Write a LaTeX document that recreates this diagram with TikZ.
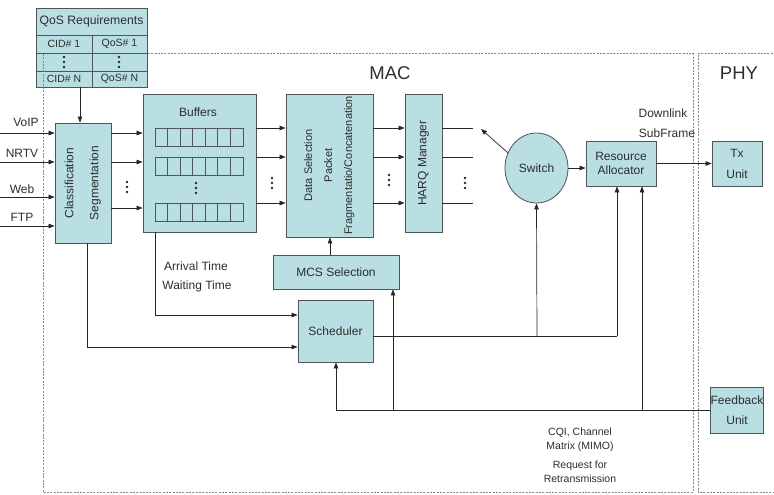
\documentclass[tikz,border=0pt]{standalone}
\usepackage{fontspec}
\setmainfont{Liberation Sans}
\usetikzlibrary{arrows.meta,shapes.geometric,calc}
\definecolor{boxfill}{RGB}{185,223,227}
\definecolor{boxline}{RGB}{75,85,90}
\definecolor{txt}{RGB}{45,45,45}
\definecolor{frame}{RGB}{135,135,135}
\newcommand{\mydots}[2]{\fill[black!85] (#1,#2-5) circle (1.3) (#1,#2) circle (1.3) (#1,#2+5) circle (1.3);}
\begin{document}
\begin{tikzpicture}[x=1pt,y=-1pt,
 box/.style={draw=boxline, fill=boxfill, line width=0.8pt, inner sep=0pt, text=txt, font=\fontsize{12}{14}\selectfont, align=center},
 cell/.style={box, font=\fontsize{10.5}{12}\selectfont},
 arr/.style={-{Triangle[length=6pt,width=4.5pt]}, draw=black!85, line width=0.7pt},
 ln/.style={draw=black!85, line width=0.7pt},
 lbl/.style={text=txt, font=\fontsize{12}{14}\selectfont, inner sep=0pt, align=center},
 frm/.style={draw=frame, line width=1pt, dash pattern=on 2pt off 1.3pt}]
\useasboundingbox (0,0) rectangle (774,495);
% frames
\draw[frm] (43,54) rectangle (693,492);
\draw[frm] (776,54) -- (698,54) -- (698,492) -- (776,492);
\node[lbl, font=\fontsize{18.5}{20}\selectfont] (mac) at (390,73) {MAC};
\node[lbl, font=\fontsize{18.5}{20}\selectfont] (phy) at (739,73) {PHY};
% QoS table
\node[box, minimum width=111pt, minimum height=27pt, font=\fontsize{12.2}{14}\selectfont] (qos) at (91.5,21.5) {QoS Requirements};
\node[cell, minimum width=56pt, minimum height=18pt] (cid1) at (64,44) {CID\# 1};
\node[cell, minimum width=55pt, minimum height=18pt] (qos1) at (119.5,44) {QoS\# 1};
\node[cell, minimum width=56pt, minimum height=18pt] (cidd) at (64,62) {};
\node[cell, minimum width=55pt, minimum height=18pt] (qosd) at (119.5,62) {};
\node[cell, minimum width=56pt, minimum height=16pt] (cidn) at (64,79) {CID\# N};
\node[cell, minimum width=55pt, minimum height=16pt] (qosn) at (119.5,79) {QoS\# N};
\mydots{64}{62}
\mydots{119}{62}
\draw[frm] (43,54) -- (43,87);
% blocks
\node[box, minimum width=56pt, minimum height=120pt] (cls) at (83,183)
  {\rotatebox{90}{\begin{tabular}{@{}c@{}}Classification\\[11pt]Segmentation\end{tabular}}};
\node[box, minimum width=113pt, minimum height=138pt] (buf) at (199.5,163) {};
\node[lbl] (buflbl) at (198,112) {Buffers};
\foreach \yy in {128,157,203}{
  \foreach \i in {0,...,6}{
    \draw[draw=boxline, fill=boxfill, line width=0.8pt] (155+\i*12.57,\yy) rectangle (155+\i*12.57+12.57,\yy+18);
  }
}
\mydots{196}{188}
\node[box, minimum width=87pt, minimum height=143pt, font=\fontsize{11}{13}\selectfont] (ds) at (329.5,165.5)
  {\rotatebox{90}{\begin{tabular}{@{}c@{}}Data Selection\\[7pt]Packet\\[7pt]Fragmentatio/Concatenation\end{tabular}}};
\node[box, minimum width=37pt, minimum height=138pt] (harq) at (423.5,163)
  {\rotatebox{90}{HARQ Manager}};
\node[box, ellipse, minimum width=63pt, minimum height=70pt] (sw) at (536.5,168) {Switch};
\node[box, minimum width=70pt, minimum height=45pt] (ra) at (621,163.5) {Resource\\Allocator};
\node[box, minimum width=50pt, minimum height=45pt] (tx) at (737,163.5) {Tx\\[7pt]Unit};
\node[box, minimum width=126pt, minimum height=34pt] (mcs) at (336,272) {MCS Selection};
\node[box, minimum width=75pt, minimum height=62pt] (sch) at (335.5,331) {Scheduler};
\node[box, minimum width=50pt, minimum height=46pt] (fb) at (737,410) {Feedback\\[6pt]Unit};
% labels
\node[lbl] (voip) at (26,122) {VoIP};
\node[lbl] (nrtv) at (22,153) {NRTV};
\node[lbl] (web) at (22,189) {Web};
\node[lbl] (ftp) at (22,217) {FTP};
\node[lbl] (arr) at (196,266) {Arrival Time};
\node[lbl] (wait) at (197,286) {Waiting Time};
\node[lbl] (dl) at (663,113) {Downlink};
\node[lbl] (sf) at (667,133) {SubFrame};
\node[lbl, font=\fontsize{10.5}{14}\selectfont] (cqi) at (580,440) {CQI, Channel\\Matrix (MIMO)};
\node[lbl, font=\fontsize{10.5}{14}\selectfont] (req) at (580,472) {Request for\\Retransmission};
% coordinates
\coordinate (in1) at (0,133);
\coordinate (in2) at (0,162);
\coordinate (in3) at (0,197);
\coordinate (in4) at (0,226);
\coordinate (h1) at (473,128);
\coordinate (h2) at (473,157);
\coordinate (h3) at (473,203);
\coordinate (swtip) at (481,129);
\coordinate (bcorner) at (155,315);
\coordinate (ccorner) at (87,347);
\coordinate (sbr1) at (537,336);
\coordinate (sbr2) at (617,336);
\coordinate (f1) at (336,410);
\coordinate (f2) at (393,410);
\coordinate (f3) at (642,410);
% connectors
\draw[arr] (cidn.south -| 80,0) -- (cls.north -| 80,0);
\foreach \c in {in1,in2,in3,in4}{\draw[arr] (\c) -- (cls.west |- \c);}
\foreach \yy in {133,162,208}{\draw[arr] (cls.east |- 0,\yy) -- (buf.west |- 0,\yy);}
\mydots{127}{187}
\foreach \yy in {128,157,203}{\draw[arr] (buf.east |- 0,\yy) -- (ds.west |- 0,\yy);}
\mydots{272}{183}
\foreach \yy in {128,157,203}{\draw[arr] (ds.east |- 0,\yy) -- (harq.west |- 0,\yy);}
\mydots{389}{180}
\foreach \c in {h1,h2,h3}{\draw[ln] (harq.east |- \c) -- (\c);}
\mydots{465}{183}
\draw[arr] (sw.152) -- (swtip);
\draw[arr] (sw.east) -- (ra.west |- sw.east);
\draw[arr] (ra.east) -- (tx.west);
\draw[arr] (buf.south -| bcorner) -- (bcorner) -- (sch.west |- bcorner);
\draw[arr] (cls.south -| ccorner) -- (ccorner) -- (sch.west |- ccorner);
\draw[arr] (mcs.north -| 330,0) -- (ds.south -| 330,0);
\draw[ln] (sch.east |- sbr1) -- (sbr2);
\draw[arr] (sbr1) -- (sw.south);
\draw[arr] (sbr2) -- (ra.south -| sbr2);
\draw[ln] (fb.west) -- (f1);
\draw[arr] (f1) -- (sch.south -| f1);
\draw[arr] (f2) -- (mcs.south -| f2);
\draw[arr] (f3) -- (ra.south -| f3);
\end{tikzpicture}
\end{document}
